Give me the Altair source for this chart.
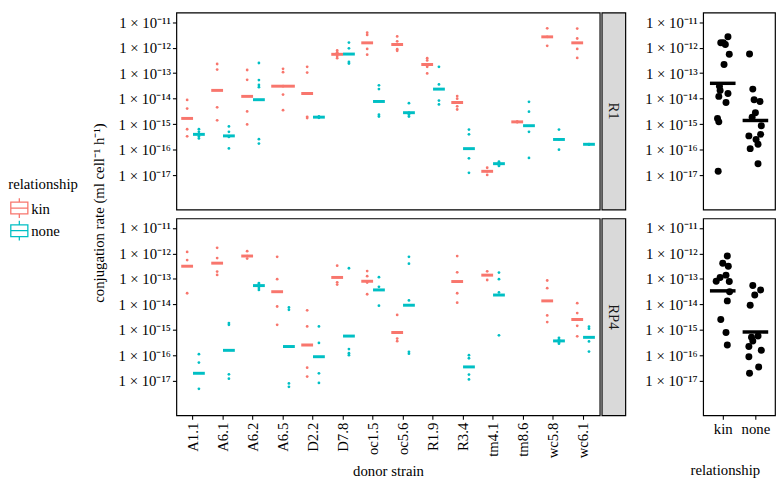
import altair as alt
import pandas as pd

FONT = "Liberation Serif"

strains = ["A1.1", "A6.1", "A6.2", "A6.5", "D2.2", "D7.8", "oc1.5", "oc5.6",
           "R1.9", "R3.4", "tm4.1", "tm8.6", "wc5.8", "wc6.1"]
rels = ["kin", "none"]
rel_colors = ["#F8766D", "#00BFC4"]
plasmids = ["R1", "RP4"]

y_tick_exps = [-17, -16, -15, -14, -13, -12, -11]
_sup = str.maketrans("-0123456789", "⁻⁰¹²³⁴⁵⁶⁷⁸⁹")
y_tick_labels = ["1 × 10" + str(e).translate(_sup) for e in y_tick_exps]
y_title = "conjugation rate (ml cell⁻¹ h⁻¹)"

# replicate conjugation rates, log10 units (one list per strain)
r1_kin_pts = [
    [-14.05, -14.39, -15.2, -15.475],
    [-12.64, -12.86, -14.34, -14.85],
    [-12.875, -13.26, -14.5, -15.01],
    [-12.83, -12.96, -13.51, -13.84, -14.45],
    [-12.75, -12.975, -14.71, -14.76],
    [-12.11, -12.18, -12.26, -12.33, -12.41],
    [-11.41, -11.5, -12.05, -12.275],
    [-11.56, -11.75, -11.875, -12.06, -12.12],
    [-12.41, -12.5, -12.75, -13.01],
    [-13.9, -14.0, -14.15, -14.3, -14.425],
    [-16.71, -16.85, -16.99],
    [-14.9, -14.91, -14.92],
    [-11.24, -11.575, -11.925],
    [-11.25, -11.64, -12.05, -12.4],
]
r1_kin_med = [-14.775, -13.675, -13.91, -13.51, -13.8, -12.26, -11.81, -11.875,
              -12.66, -14.15, -16.85, -14.91, -11.575, -11.81]

r1_none_pts = [
    [-15.2, -15.3, -15.4, -15.48, -15.56],
    [-15.09, -15.3, -15.5, -15.95],
    [-12.6, -13.27, -13.46, -13.55, -15.59, -15.76],
    [],
    [-14.7, -14.725, -14.75],
    [-11.8, -12.025, -12.56, -12.62],
    [-13.475, -13.625, -14.63, -14.7],
    [-14.175, -14.55, -14.62, -14.7],
    [-12.75, -13.44, -14.075, -14.225],
    [-15.21, -15.4, -16.34, -16.91],
    [-16.475, -16.51, -16.55, -16.6, -16.64],
    [-14.125, -14.51, -15.3, -16.325],
    [-15.21, -15.6, -16.0],
    [-15.78, -15.79, -15.8],
]
r1_none_med = [-15.4, -15.46, -14.04, None, -14.725, -12.25, -14.11, -14.55,
               -13.625, -15.96, -16.55, -15.06, -15.6, -15.79]

rp4_kin_pts = [
    [-11.94, -12.26, -13.56],
    [-11.78, -12.18, -12.71, -12.84],
    [-11.91, -12.1, -12.2],
    [-12.13, -13.01, -14.08, -14.8],
    [-14.23, -14.86, -16.48, -16.83],
    [-12.48, -13.13, -13.22],
    [-12.69, -12.89, -13.14, -13.6],
    [-14.41, -15.34, -15.44],
    [],
    [-12.10, -12.74, -13.56, -13.93],
    [-12.70, -13.04],
    [],
    [-13.06, -13.36, -14.43, -14.69],
    [-13.95, -14.34, -14.84, -15.25],
]
rp4_kin_med = [-12.50, -12.38, -12.10, -13.50, -15.59, -12.94, -13.09, -15.1,
               None, -13.10, -12.85, None, -13.86, -14.59]

rp4_none_pts = [
    [-15.95, -16.28, -17.31],
    [-14.73, -14.8, -16.74, -16.91],
    [-13.16, -13.2, -13.26, -13.35, -13.43],
    [-14.12, -14.21, -17.1, -17.23],
    [-14.86, -15.51, -16.70, -17.08],
    [-12.58, -15.75, -15.91, -15.99],
    [-12.93, -13.31, -14.05],
    [-12.13, -12.4, -13.84, -15.86, -15.93],
    [],
    [-15.99, -16.11, -16.75, -16.94],
    [-12.75, -13.01, -13.53, -15.21],
    [],
    [-15.31, -15.37, -15.43, -15.49, -15.54],
    [-14.87, -14.95, -15.45, -15.85],
]
rp4_none_med = [-16.70, -15.80, -13.26, -15.65, -16.05, -15.24, -13.43, -14.03,
                None, -16.45, -13.63, None, -15.43, -15.29]

# horizontal jitter of the strain medians in the relationship panel (fraction of a category step)
r1_kin_jit = [-0.16, -0.08, -0.12, -0.10, 0.16, 0.20, -0.06, 0.08, 0.04, 0.10, -0.14, -0.12, 0.16, 0.02]
r1_none_jit = [0.16, -0.20, -0.04, None, -0.10, -0.18, 0.14, 0.0, -0.08, -0.16, 0.08, 0.18, 0.02, 0.08]
rp4_kin_jit = [0.17, 0.0, 0.14, 0.21, 0.14, -0.08, -0.20, 0.10, None, 0.20, 0.10, None, 0.14, -0.06]
rp4_none_jit = [-0.18, 0.18, -0.08, -0.20, -0.20, 0.08, 0.16, -0.16, None, 0.10, -0.02, None, -0.08, -0.12]

groups = {
    ("R1", "kin"): (r1_kin_pts, r1_kin_med, r1_kin_jit),
    ("R1", "none"): (r1_none_pts, r1_none_med, r1_none_jit),
    ("RP4", "kin"): (rp4_kin_pts, rp4_kin_med, rp4_kin_jit),
    ("RP4", "none"): (rp4_none_pts, rp4_none_med, rp4_none_jit),
}

pt_rows, med_rows = [], []
for (pl, rel), (pts, meds, jits) in groups.items():
    for s, plist, m, j in zip(strains, pts, meds, jits):
        for v in plist:
            pt_rows.append(dict(plasmid=pl, strain=s, rel=rel, rate=10.0 ** v))
        if m is not None:
            med_rows.append(dict(plasmid=pl, strain=s, rel=rel, rate=10.0 ** m,
                                 pos=rels.index(rel) + j))
points_df = pd.DataFrame(pt_rows)
med_df = pd.DataFrame(med_rows)
n_rel = med_df.groupby(["plasmid", "strain"])["rel"].nunique().rename("nrel").reset_index()
med_df = med_df.merge(n_rel, on=["plasmid", "strain"])
med_df["solo"] = med_df["nrel"] == 1
points_df = points_df.merge(n_rel, on=["plasmid", "strain"])
points_df["solo"] = points_df["nrel"] == 1

H = 200
W_MAIN = 430
W_RIGHT = 73
BOX = "M-1,-0.69L1,-0.69L1,0.69L-1,0.69Z M-1,0L1,0 M0,-0.69L0,-1.16 M0,0.69L0,1.16"

ydom = [10 ** -18.35, 10 ** -10.625]
label_expr = "['" + "','".join(y_tick_labels) + "'][round(log(datum.value)/LN10) + 17]"


def y_enc(field):
    return alt.Y(f"{field}:Q",
                 scale=alt.Scale(type="log", domain=ydom, nice=False),
                 axis=alt.Axis(values=[10.0 ** e for e in y_tick_exps], labelExpr=label_expr,
                               tickSize=4, labelPadding=2),
                 title=None)


color_scale = alt.Scale(domain=rels, range=rel_colors)
color_enc = alt.Color("rel:N", scale=color_scale, legend=None)
border = alt.ViewBackground(stroke="black", strokeWidth=1.2)


def main_panel(pl, bottom):
    pts = points_df[points_df.plasmid == pl]
    meds = med_df[med_df.plasmid == pl]
    if bottom:
        xax = alt.Axis(labelAngle=270, labelAlign="right", labelBaseline="middle",
                       tickSize=4, labelPadding=3, titlePadding=6)
        xtitle = "donor strain"
    else:
        xax = alt.Axis(labels=False, ticks=False)
        xtitle = None
    x = alt.X("strain:N", sort=strains,
              scale=alt.Scale(domain=strains, paddingInner=0, paddingOuter=0.055),
              axis=xax, title=xtitle)
    xoff = alt.XOffset("rel:N", scale=alt.Scale(domain=rels, paddingInner=0, paddingOuter=0.275))
    y = y_enc("rate")
    base_p = alt.Chart(pts)
    base_m = alt.Chart(meds)
    layers = [
        base_p.transform_filter("!datum.solo").mark_circle(size=8, opacity=1).encode(
            x=x, xOffset=xoff, y=y, color=color_enc),
        base_p.transform_filter("datum.solo").mark_circle(size=8, opacity=1).encode(
            x=x, y=y, color=color_enc),
        base_m.transform_filter("!datum.solo").mark_tick(size=12, thickness=3, opacity=1).encode(
            x=x, xOffset=xoff, y=y, color=color_enc),
        base_m.transform_filter("datum.solo").mark_tick(size=24, thickness=3, opacity=1).encode(
            x=x, y=y, color=color_enc),
    ]
    return alt.layer(*layers).properties(width=W_MAIN, height=H, view=border)


def strip(pl):
    return alt.Chart(pd.DataFrame({"lab": [pl]})).mark_text(
        angle=90, fontSize=15, font=FONT, color="#1a1a1a").encode(text="lab:N").properties(
        width=24, height=H, view=alt.ViewBackground(fill="#d9d9d9", stroke="black", strokeWidth=1.2))


def right_panel(pl, bottom):
    meds = med_df[med_df.plasmid == pl]
    if bottom:
        xax = alt.Axis(values=[0, 1], labelExpr="datum.value == 0 ? 'kin' : 'none'",
                       tickSize=4, labelPadding=2, titlePadding=27, titleX=22)
        xtitle = "relationship"
    else:
        xax = alt.Axis(labels=False, ticks=False)
        xtitle = None
    xs = alt.Scale(domain=[-0.6, 1.6], nice=False, zero=False)
    pts = alt.Chart(meds).mark_circle(size=50, color="black", opacity=1).encode(
        x=alt.X("pos:Q", scale=xs, axis=xax, title=xtitle), y=y_enc("rate"))
    bars = alt.Chart(meds).transform_calculate(
        lg="log(datum.rate) / LN10"
    ).transform_aggregate(
        mlg="mean(lg)", groupby=["rel"]
    ).transform_calculate(
        gm="pow(10, datum.mlg)", pos="datum.rel == 'kin' ? 0 : 1"
    ).mark_tick(orient="horizontal", size=26, thickness=3.5, color="black", opacity=1).encode(
        x=alt.X("pos:Q", scale=xs, axis=xax, title=xtitle), y=y_enc("gm"))
    return alt.layer(pts, bars).properties(width=W_RIGHT, height=H, view=border)


def row(pl, bottom):
    return alt.hconcat(
        alt.hconcat(main_panel(pl, bottom), strip(pl), spacing=0),
        right_panel(pl, bottom),
        spacing=18)


body = alt.vconcat(row("R1", False), row("RP4", True), spacing=7)

# legend for relationship (boxplot key glyphs), built as a small chart
legend_df = pd.DataFrame({"rel": rels})
spacer = alt.Chart(pd.DataFrame({"a": [0]})).mark_point(size=0, opacity=0).properties(
    width=17, height=166)
legend_chart = alt.Chart(legend_df).mark_point(
    shape=BOX, filled=False, size=300, strokeWidth=1.3, opacity=1
).encode(
    y=alt.Y("rel:N", scale=alt.Scale(domain=rels), title=None,
            axis=alt.Axis(orient="right", domain=False, ticks=False, labelPadding=3,
                          labelFontSize=15)),
    stroke=alt.Stroke("rel:N", scale=color_scale, legend=None),
).properties(
    width=17, height=46,
    title=alt.TitleParams("relationship", anchor="start", fontSize=15, font=FONT,
                          fontWeight="normal", color="black", offset=4))
legend_col = alt.vconcat(spacer, legend_chart, spacing=0)

title_col = alt.Chart(pd.DataFrame({"t": [y_title]})).mark_text(
    angle=270, fontSize=15, font=FONT, color="black").encode(text="t:N").properties(
    width=16, height=2 * H + 7)

left = alt.hconcat(legend_col, title_col, spacing=12)

chart = alt.hconcat(left, body, spacing=10).properties(padding=0).configure(
    font=FONT
).configure_view(
    strokeWidth=0
).configure_axis(
    grid=False, domain=False, labelFont=FONT, labelFontSize=15, labelColor="black",
    tickColor="black", tickWidth=1.1, titleFont=FONT, titleFontSize=15,
    titleFontWeight="normal", titleColor="black"
)

chart.save("out.html", embed_options={"renderer": "svg", "actions": False})
